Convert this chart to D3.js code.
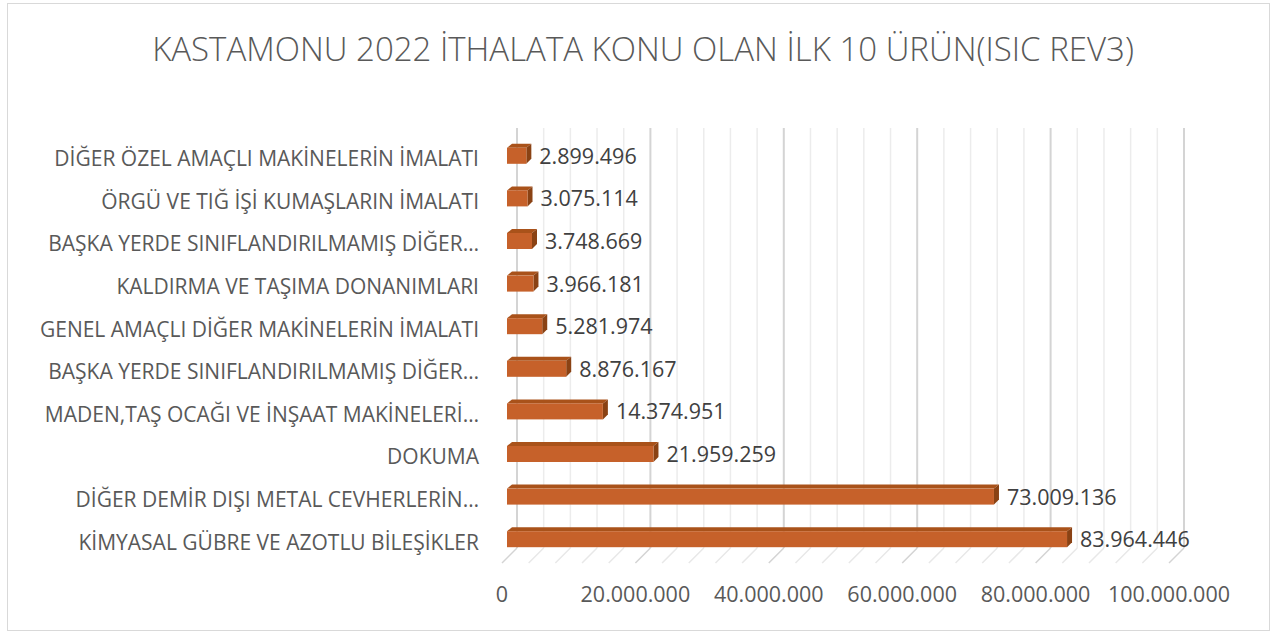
<!DOCTYPE html>
<html>
<head>
<meta charset="utf-8">
<script src="https://cdn.jsdelivr.net/npm/d3@7"></script>
<style>
  html, body { margin: 0; padding: 0; background: #fff; }
  svg { display: block; font-family: "Open Sans", sans-serif; }
</style>
</head>
<body>
<div id="chart"></div>
<script>
// data, top to bottom as drawn
const categories = [
    "DİĞER ÖZEL AMAÇLI MAKİNELERİN İMALATI",
    "ÖRGÜ VE TIĞ İŞİ KUMAŞLARIN İMALATI",
    "BAŞKA YERDE SINIFLANDIRILMAMIŞ DİĞER…",
    "KALDIRMA VE TAŞIMA DONANIMLARI",
    "GENEL AMAÇLI DİĞER MAKİNELERİN İMALATI",
    "BAŞKA YERDE SINIFLANDIRILMAMIŞ DİĞER…",
    "MADEN,TAŞ OCAĞI VE İNŞAAT MAKİNELERİ…",
    "DOKUMA",
    "DİĞER DEMİR DIŞI METAL CEVHERLERİN…",
    "KİMYASAL GÜBRE VE AZOTLU BİLEŞİKLER"
];
const values = [2899496, 3075114, 3748669, 3966181, 5281974, 8876167, 14374951, 21959259, 73009136, 83964446];
const majorTicks = [0, 20000000, 40000000, 60000000, 80000000, 100000000];
const titleText = "KASTAMONU 2022 İTHALATA KONU OLAN İLK 10 ÜRÜN(ISIC REV3)";

const W = 1277, H = 636;
const fmt = v => d3.format(",")(v).replace(/,/g, ".");

const svg = d3.select("#chart").append("svg")
    .attr("width", W).attr("height", H);

// chart frame
svg.append("rect")
    .attr("x", 7.5).attr("y", 3.5).attr("width", 1262).attr("height", 627)
    .attr("fill", "#fff").attr("stroke", "#d9d9d9");

svg.append("text")
    .attr("x", 643).attr("y", 61)
    .attr("text-anchor", "middle")
    .attr("font-size", 33).attr("font-weight", 300)
    .attr("fill", "#595959")
    .text(titleText);

// back wall scale + depth offset of the 3D box
const x = d3.scaleLinear().domain([0, 100000000]).range([517, 1184]);
const wallTop = 128, wallBottom = 548;
const depth = { dx: -15, dy: 15 };
const y = d3.scaleBand().domain(d3.range(categories.length)).range([125, 551]);

// gridlines every 4M (minor) and 20M (major)
const gridVals = d3.range(0, 100000001, 4000000);
const grid = svg.append("g");
gridVals.forEach(v => {
    const major = v % 20000000 === 0;
    grid.append("line")
        .attr("x1", x(v)).attr("x2", x(v)).attr("y1", wallTop).attr("y2", wallBottom)
        .attr("stroke", major ? "#d4d4d4" : "#ececec")
        .attr("stroke-width", major ? 2 : 1.5);
    grid.append("line")
        .attr("x1", x(v)).attr("y1", wallBottom)
        .attr("x2", x(v) + depth.dx).attr("y2", wallBottom + depth.dy)
        .attr("stroke", major ? "#d4d4d4" : "#e8e8e8")
        .attr("stroke-width", 1.5);
});

// bars: front plane at (-10,+10) from the wall, back plane at (-5,+5)
const fOff = 10, bOff = 5, barH = 16;
const bars = svg.append("g");
values.forEach((v, i) => {
    const cy = y(i) + y.bandwidth() / 2;
    const fx0 = x(0) - fOff, fx1 = x(v) - fOff;
    const fy0 = cy + fOff - barH / 2 - 0.5, fy1 = fy0 + barH;
    const s = fOff - bOff;
    // top face
    bars.append("path")
        .attr("d", `M${fx0},${fy0}L${fx0 + s},${fy0 - s + 1}L${fx1 + s},${fy0 - s + 1}L${fx1},${fy0}Z`)
        .attr("fill", "#a9521a");
    // side face
    bars.append("path")
        .attr("d", `M${fx1},${fy0}L${fx1 + s},${fy0 - s + 1}L${fx1 + s},${fy1 - s}L${fx1},${fy1}Z`)
        .attr("fill", "#8a4214");
    // front face
    bars.append("rect")
        .attr("x", fx0).attr("y", fy0).attr("width", fx1 - fx0).attr("height", barH)
        .attr("fill", "#c6612a");
    // value label
    bars.append("text")
        .attr("x", fx1 + 13).attr("y", cy + fOff)
        .attr("dy", "0.35em")
        .attr("font-size", 21.5).attr("fill", "#404040")
        .text(fmt(v));
    // category label
    bars.append("text")
        .attr("x", 479).attr("y", cy + fOff + 2.5)
        .attr("dy", "0.35em").attr("text-anchor", "end")
        .attr("font-size", 21).attr("fill", "#595959")
        .text(categories[i]);
});

// value axis labels on the front edge of the floor
svg.append("g").selectAll("text")
    .data(majorTicks)
    .join("text")
    .attr("x", d => x(d) + depth.dx)
    .attr("y", 594).attr("dy", "0.35em")
    .attr("text-anchor", "middle")
    .attr("font-size", 21.5).attr("fill", "#595959")
    .text(d => fmt(d));
</script>
</body>
</html>
